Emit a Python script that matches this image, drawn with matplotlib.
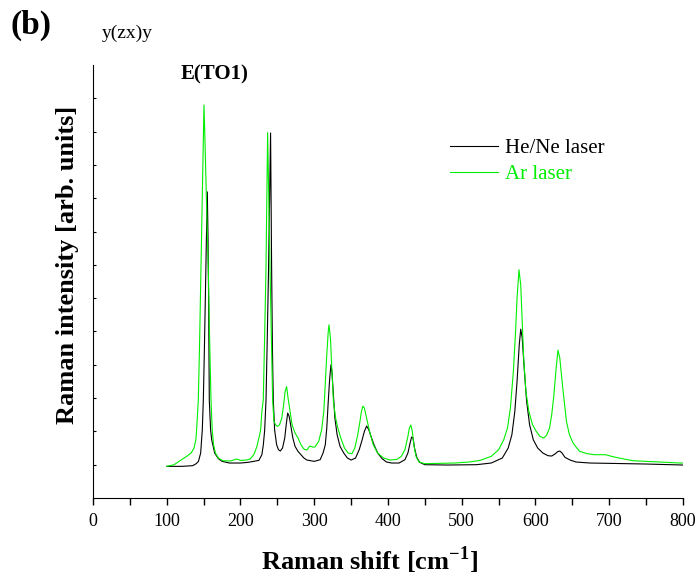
import numpy as np
import matplotlib
matplotlib.use("Agg")
import matplotlib.pyplot as plt
from matplotlib.ticker import MultipleLocator, NullFormatter

## Donnees (intensite en unites arbitraires)

# laser He/Ne (noir)
x_hene = [100, 120, 135, 140, 143, 146, 148.2, 149.6, 151, 152.3, 153.8, 155, 156, 156.8,
          157.7, 159.5, 161, 165, 170, 175, 185, 200, 210, 218, 225, 229, 231, 232.8,
          234.6, 236.4, 238.1, 240.8, 242.2, 243.3, 244.5, 246.3, 249, 251.5, 254, 257,
          260, 262, 264, 266, 268, 271, 274, 278, 282, 286, 290, 300, 308, 312, 315, 317,
          319, 321, 322.7, 324, 326, 328, 331, 335, 340, 345, 350, 356, 361, 365, 368,
          371, 374, 377, 381, 386, 392, 398, 405, 415, 423, 427, 430, 432, 434, 436, 439,
          443, 450, 480, 520, 540, 555, 563, 568, 572, 575, 578, 580, 582, 585, 588, 592,
          597, 603, 610, 617, 622, 627, 630, 633, 636, 640, 647, 655, 674, 700, 750, 800]
y_hene = [0.95, 0.95, 0.97, 1.03, 1.1, 1.35, 2.04, 2.94, 4.4, 5.95, 7.8, 9.19, 7.8, 5.95,
          2.94, 2.04, 1.74, 1.35, 1.18, 1.1, 1.05, 1.05, 1.07, 1.1, 1.13, 1.3, 1.6, 2.04,
          2.94, 4.9, 6.94, 10.96, 6.94, 4.5, 2.94, 2.04, 1.6, 1.45, 1.41, 1.5,
          1.8, 2.2, 2.55, 2.45, 2.2, 1.8, 1.55, 1.4, 1.3, 1.2, 1.14, 1.1, 1.15, 1.35, 1.6, 2.1,
          2.9, 3.6, 4.0, 3.8, 3.1, 2.4, 1.9, 1.55, 1.35, 1.2, 1.14, 1.2, 1.45, 1.75, 2.0,
          2.16, 2.05, 1.85, 1.6, 1.35, 1.18, 1.08, 1.05, 1.05, 1.15, 1.35, 1.65, 1.83, 1.8, 1.5, 1.22,
          1.07, 1.0, 0.99, 1.0, 1.05, 1.2, 1.5, 1.9, 2.6, 3.5, 4.6, 5.07, 4.8, 3.8, 2.9, 2.2,
          1.75, 1.5, 1.35, 1.27, 1.26, 1.33, 1.39, 1.41, 1.35, 1.22, 1.14, 1.08, 1.05, 1.04, 1.02, 0.99]

# laser Ar (vert)
x_ar = [100, 110, 118, 127, 133, 137, 139.5, 140.5, 142.8, 144.5, 146.4, 148.5, 150.5,
        152, 154, 156.3, 158, 160, 161.7, 163.5, 166, 170, 176, 186, 195, 200, 208, 213,
        218, 222, 225.5, 227.3, 229, 230.9, 232.8, 234.6, 236.8, 238.3, 240, 241.8,
        243.6, 245.4, 248, 250, 253, 256, 258.5, 260.5, 262.6, 264.5, 267, 270, 274, 278,
        282, 286, 290, 294, 298, 301, 306, 310, 313, 315, 317, 319, 320, 322,
        324, 326, 329, 332, 336, 341, 346, 351, 355, 359, 362, 364, 366, 368, 371, 375,
        380, 386, 394, 403, 412, 418, 423, 427, 429, 431, 433, 435, 438, 442, 450, 470,
        490, 510, 525, 540, 550, 557, 562, 566, 570, 573, 575, 577.6, 580, 582, 584, 587,
        591, 596, 601, 606, 611, 615, 619, 622, 625, 628, 630.5, 633, 637, 642, 646, 651,
        656, 660, 670, 680, 687, 695, 705, 718, 732, 750, 770, 796, 800]
y_ar = [0.95, 1.0, 1.12, 1.25, 1.35, 1.5, 1.75, 2.04, 2.94, 4.6, 6.94, 9.4, 11.8,
        10.6, 8.8, 6.94, 4.9, 2.94, 2.04, 1.6, 1.35, 1.2, 1.12, 1.11, 1.17, 1.13, 1.14, 1.17,
        1.3, 1.53, 1.85, 2.04, 2.6, 2.94, 4.9, 6.94, 10.97, 9.0, 6.94, 4.9,
        2.94, 2.3, 2.18, 2.15, 2.2, 2.4, 2.8, 3.2, 3.34, 3.0, 2.64, 2.2, 1.95, 1.8,
        1.6, 1.47, 1.44, 1.56, 1.53, 1.53, 1.7, 2.04, 2.6, 3.45, 4.3, 5.0, 5.2, 4.8,
        3.8, 2.9, 2.4, 2.1, 1.8, 1.5, 1.35, 1.33, 1.5, 1.9, 2.3, 2.6, 2.76, 2.7, 2.4, 2.0,
        1.6, 1.35, 1.2, 1.14, 1.16, 1.25, 1.45, 1.85, 2.1, 2.19, 2.0, 1.6, 1.25, 1.08, 1.03, 1.04,
        1.05, 1.08, 1.13, 1.25, 1.45, 1.75, 2.1, 2.7, 3.8, 5.0, 6.0, 6.85, 6.4, 5.3, 4.2, 3.2,
        2.6, 2.2, 2.0, 1.85, 1.8, 1.88, 2.1, 2.5, 3.1, 3.9, 4.44, 4.2, 3.3, 2.3, 1.9, 1.65,
        1.5, 1.4, 1.33, 1.3, 1.3, 1.3, 1.24, 1.18, 1.12, 1.1, 1.08, 1.05, 1.05]

## Figure

plt.rcParams["font.family"] = "Liberation Serif"
plt.rcParams["mathtext.fontset"] = "custom"
plt.rcParams["mathtext.rm"] = "Liberation Serif"
plt.rcParams["mathtext.bf"] = "Liberation Serif:bold"

fig = plt.figure(figsize=(6.96, 5.83), dpi=100)
ax = fig.add_axes([0.1336, 0.1458, 0.8477, 0.7427])

green = "#00ee00"
ax.plot(x_hene, y_hene, color="black", lw=0.8, label="He/Ne laser")
ax.plot(x_ar, y_ar, color=green, lw=0.8, label="Ar laser")

ax.set_xlim(0, 800)
ax.set_ylim(0, 13)
ax.spines["top"].set_visible(False)
ax.spines["right"].set_visible(False)

ax.xaxis.set_major_locator(MultipleLocator(100))
ax.xaxis.set_minor_locator(MultipleLocator(50))
ax.tick_params(axis="x", which="both", direction="out", length=5, width=1,
               labelsize=13, pad=6)
ax.set_yticks(np.arange(1, 13))
ax.yaxis.set_major_formatter(NullFormatter())
ax.tick_params(axis="y", which="both", direction="in", length=2.5, width=0.8)

ax.set_xlabel(r"Raman shift [cm$^{\mathbf{-1}}$]", fontsize=19, fontweight="bold")
ax.xaxis.set_label_coords(0.469, -0.107)
ax.set_ylabel("Raman intensity [arb. units]", fontsize=19, fontweight="bold")
ax.yaxis.set_label_coords(-0.023, 0.538)

ax.legend(loc="upper left", bbox_to_anchor=(0.573, 0.873), frameon=False, fontsize=15,
          handlelength=2.3, handletextpad=0.34, labelspacing=0.3, labelcolor="linecolor")

ax.text(119, 12.72, "E(TO1)", fontsize=15, fontweight="bold", va="center")
fig.text(0.015, 0.957, "(b)", fontsize=24, fontweight="bold", va="center")
fig.text(0.147, 0.943, "y(zx)y", fontsize=14, va="center")

fig.savefig("out.png", dpi=100)
